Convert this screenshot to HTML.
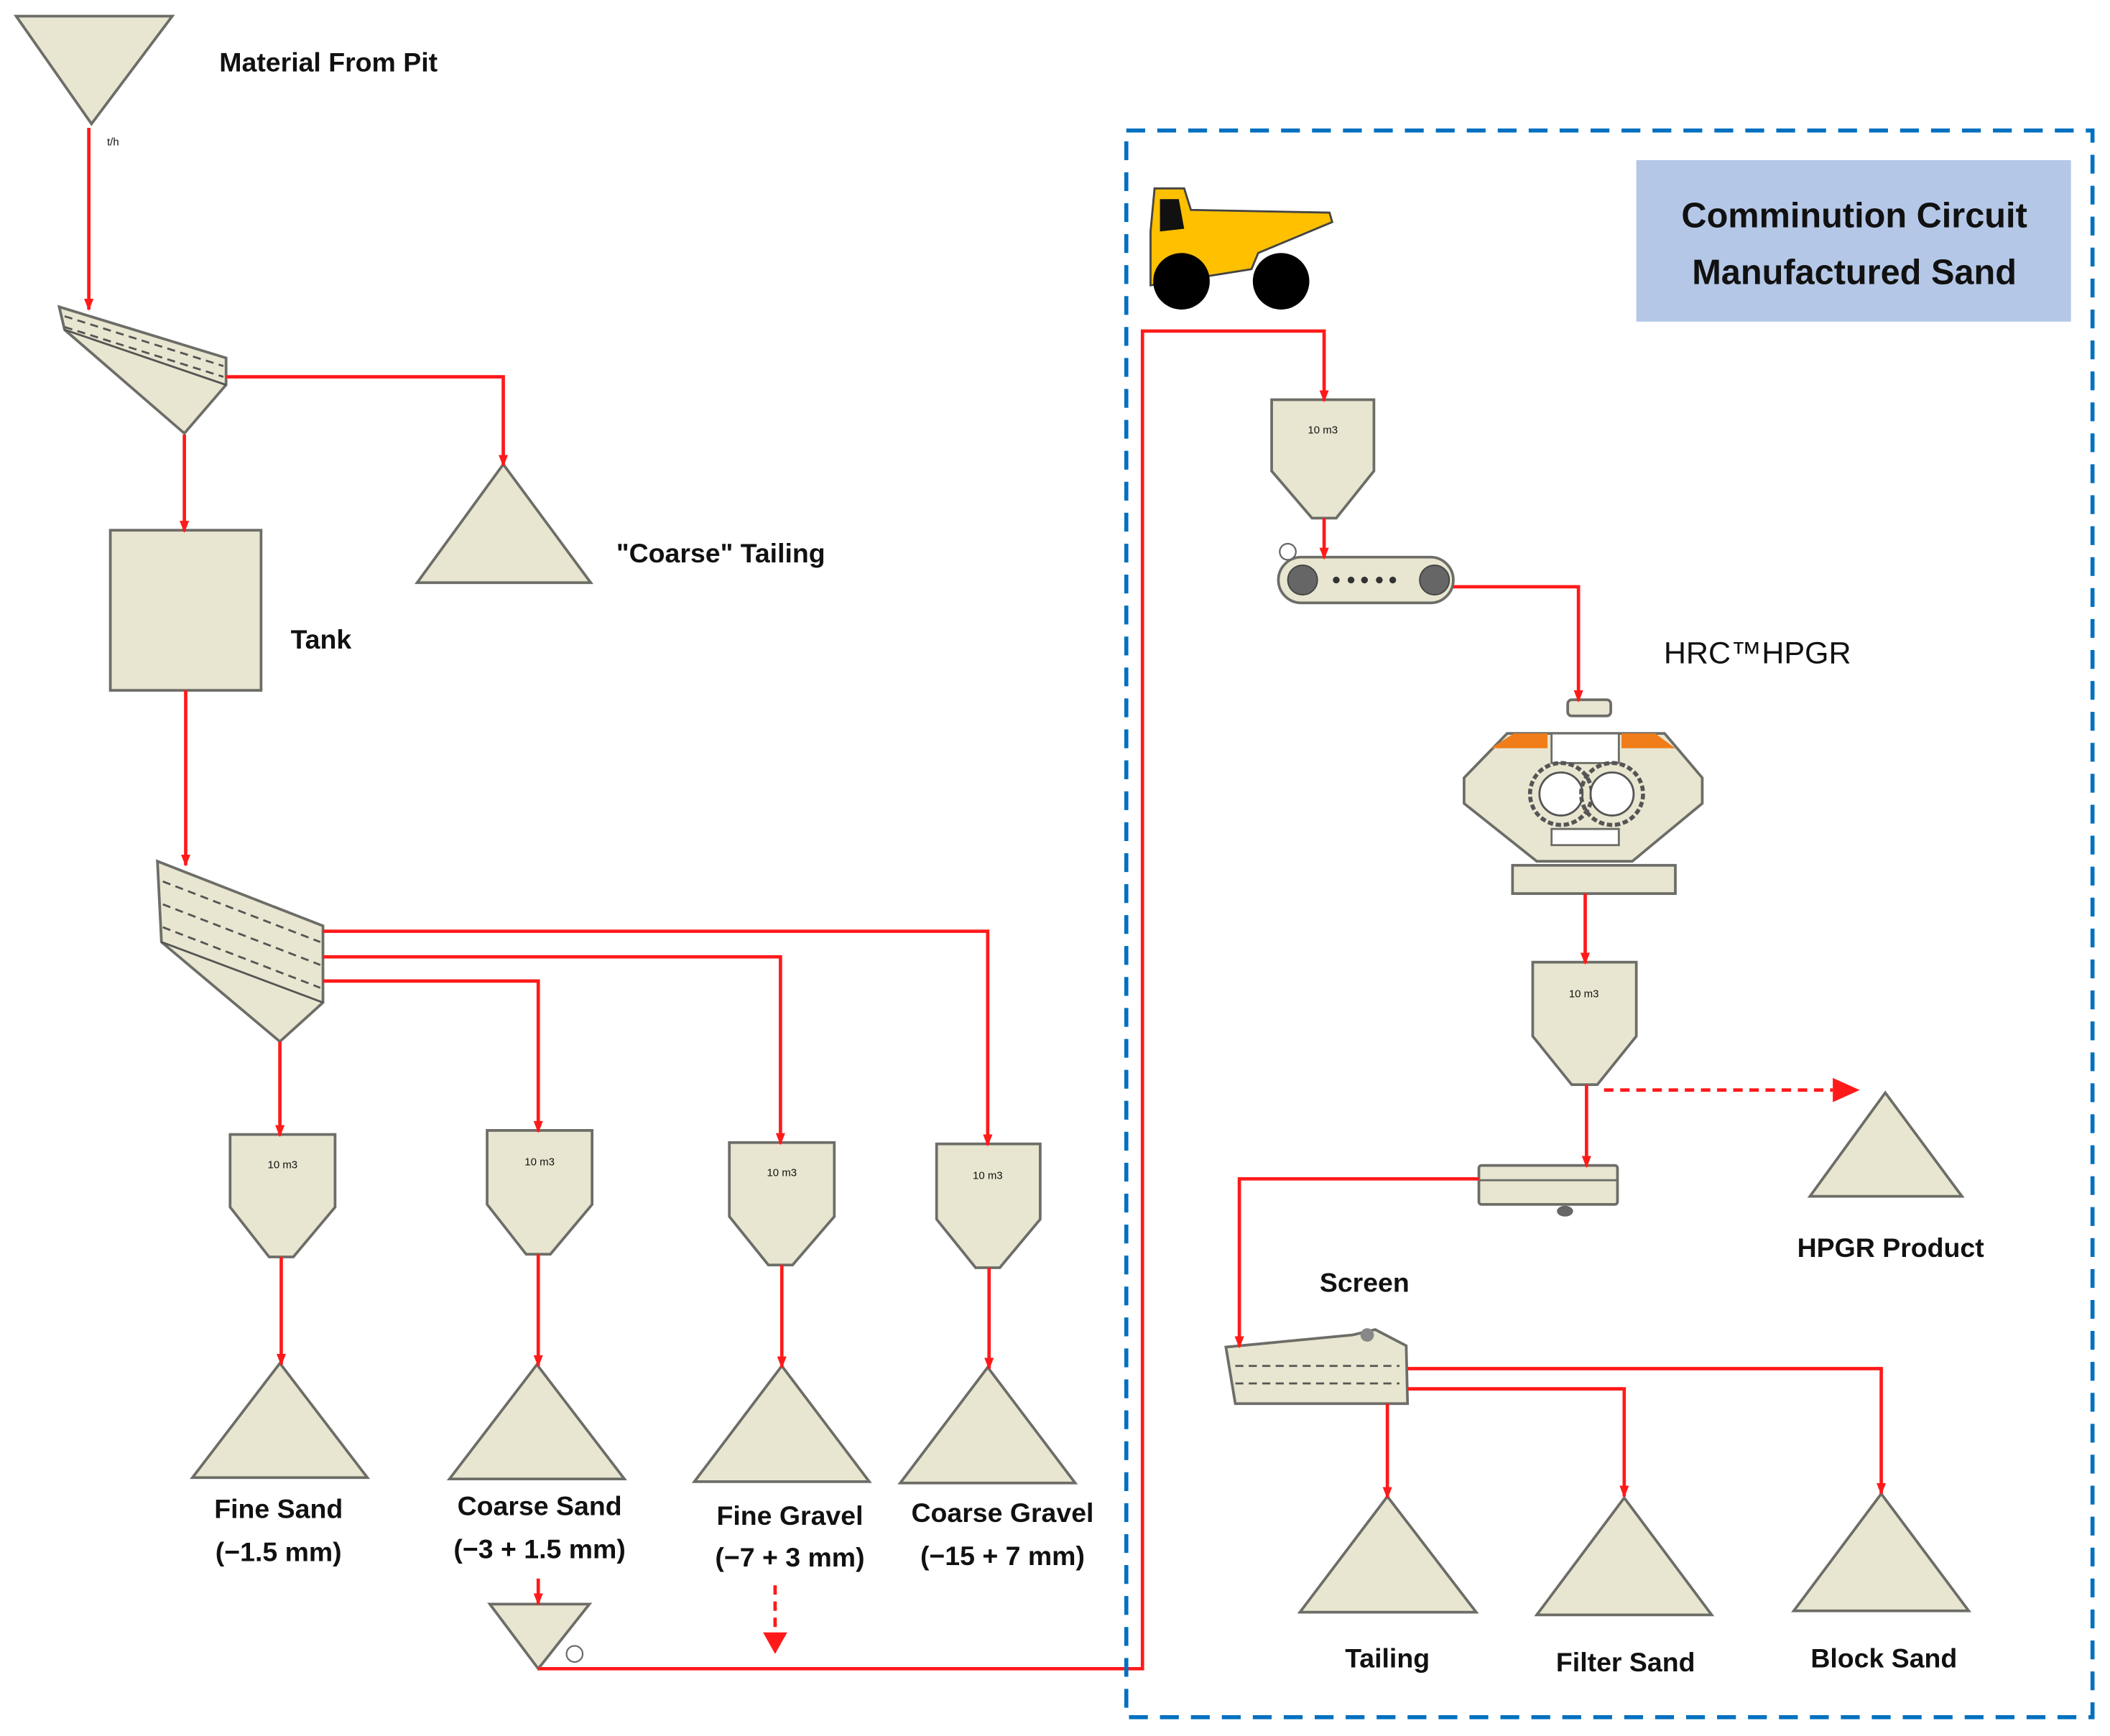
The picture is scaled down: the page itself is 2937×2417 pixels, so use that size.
<!DOCTYPE html>
<html><head><meta charset="utf-8"><style>
html,body{margin:0;padding:0;background:#fff}
svg{display:block}
text{font-family:"Liberation Sans",sans-serif;fill:#111}
</style></head><body>
<svg width="2937" height="2417" viewBox="0 0 1568 1290" preserveAspectRatio="none" xmlns="http://www.w3.org/2000/svg">
<defs>
<marker id="a" markerWidth="9" markerHeight="8" refX="8" refY="4" orient="auto" markerUnits="userSpaceOnUse"><path d="M0,0.5 L9,4 L0,7.5 Z" fill="#ff1a1a"/></marker>
</defs>
<g fill="#e8e6d0" stroke="#6d6d68" stroke-width="2">
<polygon points="12,12 128,12 68,92"/>
<polygon points="44,228 168,266 168,286 137,322 48,245"/>
<polygon points="310,433 374,345 439,433"/>
<rect x="82" y="394" width="112" height="119"/>
<polygon points="117,640 240,688 240,745 208,774 120,700"/>
<polygon points="171,843 249,843 249,897 218,934 200,934 171,897"/>
<polygon points="362,840 440,840 440,895 409,932 391,932 362,895"/>
<polygon points="542,849 620,849 620,904 589,940 571,940 542,904"/>
<polygon points="696,850 773,850 773,906 743,942 725,942 696,906"/>
<polygon points="143,1098 208,1013 273,1098"/>
<polygon points="334,1099 399,1014 464,1099"/>
<polygon points="516,1101 581,1015 646,1101"/>
<polygon points="669,1102 734,1016 799,1102"/>
<polygon points="364,1192 438,1192 400,1240"/>
<circle cx="427" cy="1229" r="6" fill="none" stroke-width="1.2"/>
<polygon points="945,297 1021,297 1021,350 993,385 975,385 945,350"/>
<rect x="950" y="414" width="130" height="34" rx="17"/>
<rect x="1165" y="520" width="32" height="12" rx="3"/>
<polygon points="1088,578 1120,545 1237,545 1265,578 1265,597 1213,640 1142,640 1088,597"/>
<rect x="1124" y="643" width="121" height="21"/>
<polygon points="1139,715 1216,715 1216,770 1187,806 1168,806 1139,770"/>
<polygon points="1345,889 1401,812 1458,889"/>
<rect x="1099" y="866" width="103" height="29" rx="2"/>
<polygon points="911,1001 1005,992 1022,988 1045,1000 1046,1043 918,1043"/>
<polygon points="966,1198 1031,1112 1097,1198"/>
<polygon points="1142,1200 1207,1113 1272,1200"/>
<polygon points="1333,1197 1398,1110 1463,1197"/>
</g>
<g stroke="#555" stroke-width="1.5" fill="none" stroke-dasharray="6,4">
<line x1="48" y1="235" x2="166" y2="272"/>
<line x1="48" y1="243" x2="166" y2="280"/>
<line x1="121" y1="655" x2="238" y2="700"/>
<line x1="121" y1="672" x2="238" y2="717"/>
<line x1="121" y1="689" x2="238" y2="734"/>
<line x1="918" y1="1015" x2="1040" y2="1015"/>
<line x1="918" y1="1028" x2="1040" y2="1028"/>
</g>
<line x1="48" y1="245" x2="168" y2="286" stroke="#555" stroke-width="1.5"/>
<line x1="120" y1="700" x2="240" y2="745" stroke="#555" stroke-width="1.5"/>
<line x1="1099" y1="877" x2="1202" y2="877" stroke="#6d6d68" stroke-width="1.5"/>
<ellipse cx="1163" cy="900" rx="6" ry="4" fill="#666"/>
<circle cx="1016" cy="992" r="5" fill="#888"/>
<circle cx="968" cy="431" r="11" fill="#666" stroke="#444"/>
<circle cx="1066" cy="431" r="11" fill="#666" stroke="#444"/>
<g fill="#333"><circle cx="993" cy="431" r="2.5"/><circle cx="1004" cy="431" r="2.5"/><circle cx="1014" cy="431" r="2.5"/><circle cx="1025" cy="431" r="2.5"/><circle cx="1035" cy="431" r="2.5"/></g>
<circle cx="957" cy="410" r="6" fill="#fff" stroke="#666" stroke-width="1.2"/>
<polygon points="1108,556 1150,556 1150,545 1125,545" fill="#f07d1a"/>
<polygon points="1205,545 1230,545 1245,556 1205,556" fill="#f07d1a"/>
<rect x="1153" y="545" width="50" height="22" fill="#fff" stroke="#6d6d68" stroke-width="1.5"/>
<rect x="1153" y="616" width="50" height="12" fill="#fff" stroke="#6d6d68" stroke-width="1.5"/>
<circle cx="1160" cy="590" r="23" fill="none" stroke="#555" stroke-width="3" stroke-dasharray="4,2"/>
<circle cx="1160" cy="590" r="16" fill="#fff" stroke="#555" stroke-width="1.5"/>
<circle cx="1198" cy="590" r="23" fill="none" stroke="#555" stroke-width="3" stroke-dasharray="4,2"/>
<circle cx="1198" cy="590" r="16" fill="#fff" stroke="#555" stroke-width="1.5"/>
<!-- truck -->
<polygon points="855,172 855,212 930,200 935,188 990,165 988,158 885,156 880,140 858,140" fill="#ffc000" stroke="#444" stroke-width="1.5"/>
<polygon points="862,148 876,148 880,170 862,172" fill="#111"/>
<circle cx="878" cy="209" r="21" fill="#000"/>
<circle cx="952" cy="209" r="21" fill="#000"/>
<g stroke="#ff1a1a" stroke-width="2.5" fill="none">
<polyline points="66,95 66,230" marker-end="url(#a)"/>
<polyline points="168,280 374,280 374,346" marker-end="url(#a)"/>
<polyline points="137,323 137,395" marker-end="url(#a)"/>
<polyline points="138,513 138,643" marker-end="url(#a)"/>
<polyline points="240,692 734,692 734,851" marker-end="url(#a)"/>
<polyline points="240,711 580,711 580,850" marker-end="url(#a)"/>
<polyline points="240,729 400,729 400,841" marker-end="url(#a)"/>
<polyline points="208,774 208,844" marker-end="url(#a)"/>
<polyline points="209,934 209,1014" marker-end="url(#a)"/>
<polyline points="400,932 400,1015" marker-end="url(#a)"/>
<polyline points="581,940 581,1016" marker-end="url(#a)"/>
<polyline points="735,942 735,1017" marker-end="url(#a)"/>
<polyline points="400,1173 400,1192" marker-end="url(#a)"/>
<polyline points="400,1240 849,1240 849,246 984,246 984,298" marker-end="url(#a)"/>
<polyline points="984,385 984,415" marker-end="url(#a)"/>
<polyline points="1080,436 1173,436 1173,521" marker-end="url(#a)"/>
<polyline points="1178,664 1178,716" marker-end="url(#a)"/>
<polyline points="1179,806 1179,867" marker-end="url(#a)"/>
<polyline points="1099,876 921,876 921,1001" marker-end="url(#a)"/>
<polyline points="1046,1017 1398,1017 1398,1110" marker-end="url(#a)"/>
<polyline points="1046,1032 1207,1032 1207,1112" marker-end="url(#a)"/>
<polyline points="1031,1043 1031,1113" marker-end="url(#a)"/>
<line x1="576" y1="1178" x2="576" y2="1213" stroke-dasharray="7,5"/>
<line x1="1192" y1="810" x2="1362" y2="810" stroke-dasharray="7,5"/>
</g>
<polygon points="567,1213 585,1213 576,1229" fill="#ff1a1a"/>
<polygon points="1362,801 1362,819 1382,810" fill="#ff1a1a"/>
<rect x="837" y="97" width="718" height="1179" fill="none" stroke="#0070c0" stroke-width="3" stroke-dasharray="14,9"/>
<rect x="1216" y="119" width="323" height="120" fill="#b4c7e7"/>
<g font-size="20" text-anchor="middle" font-weight="bold">
<text x="163" y="53" text-anchor="start">Material From Pit</text>
<text x="458" y="418" text-anchor="start">"Coarse" Tailing</text>
<text x="216" y="482" text-anchor="start">Tank</text>
<text x="207" y="1128">Fine Sand</text>
<text x="207" y="1160">(−1.5 mm)</text>
<text x="401" y="1126">Coarse Sand</text>
<text x="401" y="1158">(−3 + 1.5 mm)</text>
<text x="587" y="1133">Fine Gravel</text>
<text x="587" y="1164">(−7 + 3 mm)</text>
<text x="745" y="1131">Coarse Gravel</text>
<text x="745" y="1163">(−15 + 7 mm)</text>
<text x="1014" y="960">Screen</text>
<text x="1405" y="934">HPGR Product</text>
<text x="1031" y="1239">Tailing</text>
<text x="1208" y="1242">Filter Sand</text>
<text x="1400" y="1239">Block Sand</text>
<text x="1306" y="493" font-size="23" font-weight="normal">HRC™HPGR</text>
<text x="1378" y="169" font-size="26">Comminution Circuit</text>
<text x="1378" y="211" font-size="26">Manufactured Sand</text>
</g>
<g font-size="8" fill="#333" text-anchor="middle">
<text x="84" y="108">t/h</text>
<text x="210" y="868">10 m3</text>
<text x="401" y="866">10 m3</text>
<text x="581" y="874">10 m3</text>
<text x="734" y="876">10 m3</text>
<text x="983" y="322">10 m3</text>
<text x="1177" y="741">10 m3</text>
</g>
</svg>
</body></html>
